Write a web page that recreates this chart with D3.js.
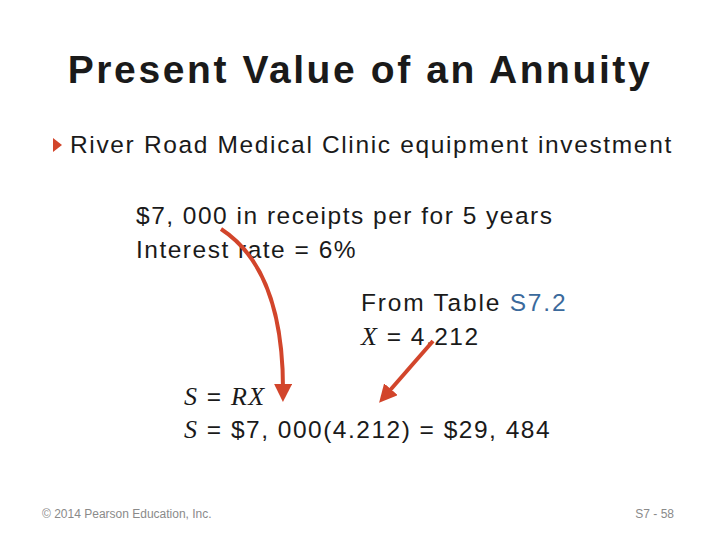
<!DOCTYPE html>
<html><head><meta charset="utf-8">
<script src="https://cdn.jsdelivr.net/npm/d3@7"></script>
<style>body{margin:0;background:#fff}</style>
</head><body>
<svg id="slide" width="720" height="540"></svg>
<script>
const title = "Present Value of an Annuity";
const bullet = "River Road Medical Clinic equipment investment";
const givenLines = ["$7, 000 in receipts per for 5 years", "Interest rate = 6%"];
const tableRef = ["From Table ", "S7.2"];
const factor = 4.212;
const receipt = 7000;
const footerLeft = "\u00a9 2014 Pearson Education, Inc.";
const footerRight = "S7 - 58";

const red = "#d2452b", ink = "#1a1a1a";
const svg = d3.select("#slide");
const font = "Arial, 'Liberation Sans', sans-serif";
const serif = "'Times New Roman', 'Liberation Serif', serif";
const ls = 1.5;

svg.append("defs").append("marker")
    .attr("id", "head").attr("viewBox", "0 0 10 10")
    .attr("refX", 5).attr("refY", 5)
    .attr("markerWidth", 4.5).attr("markerHeight", 4.5)
    .attr("orient", "auto")
    .append("path").attr("d", "M0,0L10,5L0,10Z").attr("fill", red);

svg.append("text").attr("x", 360).attr("y", 83)
    .attr("text-anchor", "middle").attr("font-family", font)
    .attr("font-weight", "bold").attr("font-size", 39).attr("fill", ink)
    .attr("letter-spacing", 2.6)
    .text(title);

svg.append("path").attr("d", "M53,138L62,145L53,152Z").attr("fill", red);
svg.append("text").attr("x", 70).attr("y", 153)
    .attr("font-family", font).attr("font-size", 24.5).attr("fill", ink)
    .attr("letter-spacing", 1.65)
    .text(bullet);

svg.selectAll(".given").data(givenLines).join("text")
    .attr("x", 136).attr("y", (d, i) => 224 + i * 34)
    .attr("font-family", font).attr("font-size", 24.5).attr("fill", ink)
    .attr("letter-spacing", ls)
    .text(d => d);

const t = svg.append("text").attr("x", 361).attr("y", 311)
    .attr("font-family", font).attr("font-size", 24.5).attr("fill", ink)
    .attr("letter-spacing", 1.8);
t.append("tspan").text(tableRef[0]);
t.append("tspan").attr("fill", "#3b6a9c").text(tableRef[1]);

const fmt = d3.format(",");
function eq(x, y, parts) {
    const e = svg.append("text").attr("x", x).attr("y", y)
        .attr("font-size", 24.5).attr("fill", ink).attr("letter-spacing", ls);
    parts.forEach(([s, it]) => e.append("tspan")
        .attr("font-family", it ? serif : font)
        .attr("font-style", it ? "italic" : "normal")
        .attr("font-size", it ? 26 : 24.5)
        .text(s));
}
eq(361, 345, [["X", 1], [" = " + factor.toFixed(3), 0]]);
eq(184, 405, [["S", 1], [" = ", 0], ["RX", 1]]);
const total = receipt * factor;
eq(184, 438, [["S", 1], [" = $" + fmt(receipt).replace(",", ", ") + "(" + factor.toFixed(3) + ") = $" + fmt(Math.round(total)).replace(",", ", "), 0]]);

svg.append("path").attr("d", "M221,229Q284,270 283,393")
    .attr("fill", "none").attr("stroke", red).attr("stroke-width", 4)
    .attr("marker-end", "url(#head)");
svg.append("path").attr("d", "M433,341L385,396")
    .attr("fill", "none").attr("stroke", red).attr("stroke-width", 4)
    .attr("marker-end", "url(#head)");

svg.append("text").attr("x", 42).attr("y", 518)
    .attr("font-family", font).attr("font-size", 12).attr("fill", "#8a8a8a")
    .text(footerLeft);
svg.append("text").attr("x", 674).attr("y", 518).attr("text-anchor", "end")
    .attr("font-family", font).attr("font-size", 12).attr("fill", "#8a8a8a")
    .text(footerRight);
</script>
</body></html>
